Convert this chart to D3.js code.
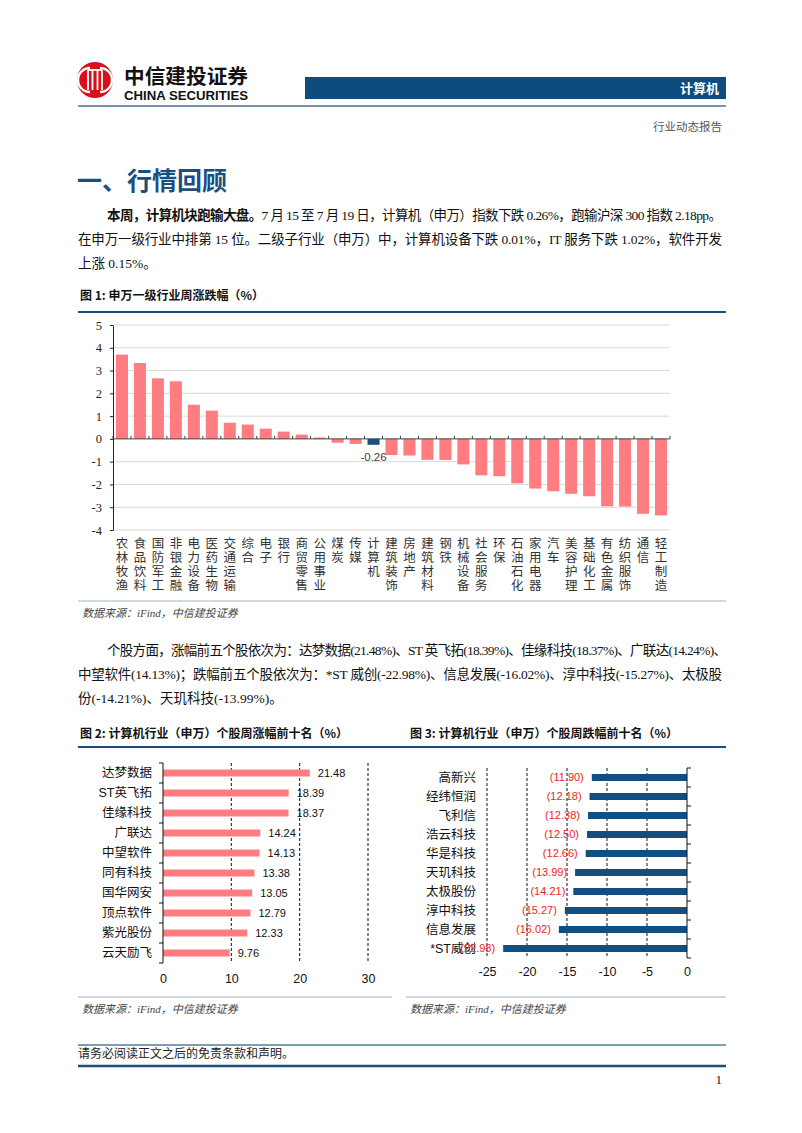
<!DOCTYPE html>
<html>
<head>
<meta charset="utf-8">
<script src="https://cdn.jsdelivr.net/npm/d3@7"></script>
<style>body{margin:0;background:#fff}</style>
</head>
<body>
<svg id="page" width="802" height="1133"></svg>
<script>
// figure 1: weekly change of SW level-1 industries (%)
const industries = ["农林牧渔","食品饮料","国防军工","非银金融","电力设备","医药生物","交通运输","综合","电子","银行","商贸零售","公用事业","煤炭","传媒","计算机","建筑装饰","房地产","建筑材料","钢铁","机械设备","社会服务","环保","石油石化","家用电器","汽车","美容护理","基础化工","有色金属","纺织服饰","通信","轻工制造"];
const industryChg = [3.70,3.33,2.66,2.53,1.50,1.24,0.71,0.63,0.45,0.32,0.19,0.06,-0.17,-0.22,-0.26,-0.71,-0.73,-0.92,-0.93,-1.12,-1.60,-1.64,-1.95,-2.18,-2.30,-2.41,-2.52,-2.96,-2.97,-3.29,-3.36];
const yTicks1 = [5,4,3,2,1,0,-1,-2,-3,-4];

// figure 2: top 10 gainers
const gainers = ["达梦数据","ST英飞拓","佳缘科技","广联达","中望软件","同有科技","国华网安","顶点软件","紫光股份","云天励飞"];
const gainerChg = [21.48,18.39,18.37,14.24,14.13,13.38,13.05,12.79,12.33,9.76];
const xTicks2 = [0,10,20,30];

// figure 3: top 10 losers
const losers = ["高新兴","经纬恒润","飞利信","浩云科技","华是科技","天玑科技","太极股份","淳中科技","信息发展","*ST威创"];
const loserChg = [-11.90,-12.18,-12.38,-12.50,-12.66,-13.99,-14.21,-15.27,-16.02,-22.98];
const xTicks3 = [-25,-20,-15,-10,-5,0];

const SERIF = "'Liberation Serif','Noto Sans CJK SC',serif";
const SANS = "'Liberation Sans','Noto Sans CJK SC',sans-serif";
const CJK = "'Noto Sans CJK SC',sans-serif";
const BLUE = "#1b4f80";
const SALMON = "#ff7c80";
const plain = d => String(d);   // keep ascii hyphen for negatives

const svg = d3.select("#page");
svg.append("rect").attr("width", 802).attr("height", 1133).attr("fill", "#fff");

function hline(x1, x2, y, color, w) {
    svg.append("line").attr("x1", x1).attr("x2", x2).attr("y1", y).attr("y2", y)
        .attr("stroke", color).attr("stroke-width", w);
}

// spread a line of text so it fills the given width
function justify(t, width) {
    let node = t.node();
    let n = node.getNumberOfChars();
    let w = node.getComputedTextLength();
    t.attr("letter-spacing", (width - w) / (n - 1));
}

// ---------- header ----------
let logo = svg.append("g").attr("transform", "translate(95,80)");
logo.append("circle").attr("r", 18).attr("fill", "#d7101b");
logo.append("path").attr("d", "M-5,-12 A12,12 0 0,0 -5,12").attr("fill", "none").attr("stroke", "#fff").attr("stroke-width", 2.4);
logo.append("path").attr("d", "M5,-12 A12,12 0 0,1 5,12").attr("fill", "none").attr("stroke", "#fff").attr("stroke-width", 2.4);
[-7, -2.5, 2.5, 7].forEach(dx => {
    logo.append("line").attr("x1", dx).attr("x2", dx).attr("y1", -10).attr("y2", 10)
        .attr("stroke", "#fff").attr("stroke-width", 1.8);
});
logo.append("line").attr("x1", -7).attr("x2", 7).attr("y1", -10).attr("y2", -10).attr("stroke", "#fff").attr("stroke-width", 1.8);

svg.append("text").attr("x", 124).attr("y", 84).text("中信建投证券")
    .attr("font-family", CJK).attr("font-weight", "bold").attr("font-size", 20).attr("fill", "#111")
    .attr("textLength", 124).attr("lengthAdjust", "spacingAndGlyphs");
svg.append("text").attr("x", 124).attr("y", 100).text("CHINA SECURITIES")
    .attr("font-family", SANS).attr("font-weight", "bold").attr("font-size", 12).attr("fill", "#111")
    .attr("textLength", 124).attr("lengthAdjust", "spacingAndGlyphs");

svg.append("rect").attr("x", 305).attr("y", 77).attr("width", 421).attr("height", 22).attr("fill", "#0e4c7e");
svg.append("text").attr("x", 719).attr("y", 93).attr("text-anchor", "end").text("计算机")
    .attr("font-family", CJK).attr("font-weight", "bold").attr("font-size", 13).attr("fill", "#fff");
hline(78, 726, 106, "#4c7191", 1.5);
svg.append("text").attr("x", 722).attr("y", 131).attr("text-anchor", "end").text("行业动态报告")
    .attr("font-family", CJK).attr("font-size", 11.5).attr("fill", "#555");

// ---------- section heading & paragraph 1 ----------
svg.append("text").attr("x", 77).attr("y", 190).text("一、行情回顾")
    .attr("font-family", CJK).attr("font-weight", "bold").attr("font-size", 25).attr("fill", BLUE);

function para(lines, y0) {
    lines.forEach((ln, i) => {
        let t = svg.append("text").attr("x", ln.x).attr("y", y0 + i * 24)
            .attr("font-family", SERIF).attr("font-size", 13.5).attr("fill", "#111");
        ln.parts.forEach(p => {
            t.append("tspan").text(p[0]).attr("font-weight", p[1] ? "bold" : null);
        });
        if (ln.w) justify(t, ln.w);
    });
}

para([
    {x: 107, w: 615, parts: [["本周，计算机块跑输大盘。", true], ["7 月 15 至 7 月 19 日，计算机（申万）指数下跌 0.26%，跑输沪深 300 指数 2.18pp。", false]]},
    {x: 78, w: 644, parts: [["在申万一级行业中排第 15 位。二级子行业（申万）中，计算机设备下跌 0.01%，IT 服务下跌 1.02%，软件开发", false]]},
    {x: 78, parts: [["上涨 0.15%。", false]]}
], 220);

// ---------- figure 1 ----------
svg.append("text").attr("x", 80).attr("y", 300).text("图 1: 申万一级行业周涨跌幅（%）")
    .attr("font-family", CJK).attr("font-weight", "bold").attr("font-size", 12).attr("fill", "#111");
hline(78, 726, 312, BLUE, 2);

const x1 = d3.scaleBand().domain(industries).range([113, 670]).paddingInner(0.33).paddingOuter(0.165);
const y1 = d3.scaleLinear().domain([-4, 5]).range([530, 325]);

let g1 = svg.append("g");
g1.selectAll("line.grid").data(yTicks1.filter(d => d !== 0)).join("line").attr("class", "grid")
    .attr("x1", 113).attr("x2", 670).attr("y1", d => y1(d)).attr("y2", d => y1(d))
    .attr("stroke", "#d9d9d9").attr("stroke-width", 1);

g1.selectAll("rect.bar").data(industries).join("rect").attr("class", "bar")
    .attr("x", d => x1(d))
    .attr("width", x1.bandwidth())
    .attr("y", (d, i) => Math.min(y1(industryChg[i]), y1(0)))
    .attr("height", (d, i) => Math.abs(y1(industryChg[i]) - y1(0)))
    .attr("fill", d => d === "计算机" ? "#1b4f80" : SALMON);

hline(113, 670, y1(0), "#404040", 1);
g1.selectAll("line.ct").data(d3.range(industries.length + 1)).join("line").attr("class", "ct")
    .attr("x1", i => 113 + i * x1.step()).attr("x2", i => 113 + i * x1.step())
    .attr("y1", y1(0) - 3).attr("y2", y1(0)).attr("stroke", "#404040");

let ax1 = g1.append("g").attr("transform", "translate(113,0)")
    .call(d3.axisLeft(y1).tickValues(yTicks1).tickSize(3).tickSizeOuter(0).tickPadding(8).tickFormat(plain));
ax1.select(".domain").attr("stroke", "#222");
ax1.selectAll(".tick line").attr("stroke", "#222");
ax1.selectAll("text").attr("font-family", SERIF).attr("font-size", 12.5).attr("fill", "#222");

// label for the computer bar
let ci = industries.indexOf("计算机");
g1.append("text").attr("x", x1("计算机") + x1.bandwidth() / 2).attr("y", y1(industryChg[ci]) + 16)
    .attr("text-anchor", "middle").text(industryChg[ci].toFixed(2))
    .attr("font-family", SANS).attr("font-size", 11.5).attr("fill", "#404040");

// vertical category labels, one column of characters per bar
g1.selectAll("text.xl").data(industries).join("text").attr("class", "xl")
    .attr("x", d => x1(d) + x1.bandwidth() / 2).attr("y", 536.5)
    .style("writing-mode", "vertical-rl")
    .attr("letter-spacing", 1.8)
    .text(d => d)
    .attr("font-family", CJK).attr("font-size", 12.5).attr("fill", "#333");

hline(78, 726, 601, "#9fb4c6", 1);
svg.append("text").attr("x", 82).attr("y", 617).text("数据来源：iFind，中信建投证券")
    .attr("font-family", SERIF).attr("font-style", "italic").attr("font-size", 11).attr("fill", "#444");

// ---------- paragraph 2 ----------
para([
    {x: 107, w: 620, parts: [["个股方面，涨幅前五个股依次为：达梦数据(21.48%)、ST 英飞拓(18.39%)、佳缘科技(18.37%)、广联达(14.24%)、", false]]},
    {x: 78, w: 644, parts: [["中望软件(14.13%)；跌幅前五个股依次为：*ST 威创(-22.98%)、信息发展(-16.02%)、淳中科技(-15.27%)、太极股", false]]},
    {x: 78, parts: [["份(-14.21%)、天玑科技(-13.99%)。", false]]}
], 655);

// ---------- figures 2 & 3 ----------
svg.append("text").attr("x", 80).attr("y", 738).text("图 2: 计算机行业（申万）个股周涨幅前十名（%）")
    .attr("font-family", CJK).attr("font-weight", "bold").attr("font-size", 12).attr("fill", "#111");
svg.append("text").attr("x", 410).attr("y", 738).text("图 3: 计算机行业（申万）个股周跌幅前十名（%）")
    .attr("font-family", CJK).attr("font-weight", "bold").attr("font-size", 12).attr("fill", "#111");
hline(78, 726, 747, BLUE, 2);

// figure 2
const x2 = d3.scaleLinear().domain([0, 30]).range([163, 368]);
const y2 = d3.scaleBand().domain(gainers).range([763, 963]);
let g2 = svg.append("g");
g2.selectAll("line.dash").data(xTicks2.filter(d => d !== 0)).join("line").attr("class", "dash")
    .attr("x1", d => x2(d)).attr("x2", d => x2(d)).attr("y1", 763).attr("y2", 963)
    .attr("stroke", "#111").attr("stroke-dasharray", "3,2");
g2.selectAll("rect").data(gainers).join("rect")
    .attr("x", x2(0)).attr("y", d => y2(d) + y2.bandwidth() / 2 - 3.5)
    .attr("width", (d, i) => x2(gainerChg[i]) - x2(0)).attr("height", 7)
    .attr("fill", SALMON);
g2.selectAll("text.val").data(gainers).join("text").attr("class", "val")
    .attr("x", (d, i) => x2(gainerChg[i]) + 8).attr("y", d => y2(d) + y2.bandwidth() / 2).attr("dy", "0.35em")
    .text((d, i) => gainerChg[i].toFixed(2))
    .attr("font-family", SANS).attr("font-size", 11).attr("fill", "#111");
g2.selectAll("text.cat").data(gainers).join("text").attr("class", "cat")
    .attr("x", 152).attr("y", d => y2(d) + y2.bandwidth() / 2).attr("dy", "0.35em")
    .attr("text-anchor", "end").text(d => d)
    .attr("font-family", SANS).attr("font-size", 12.5).attr("fill", "#111");
g2.append("line").attr("x1", x2(0)).attr("x2", x2(0)).attr("y1", 763).attr("y2", 963).attr("stroke", "#111");
g2.selectAll("line.yt").data(d3.range(gainers.length + 1)).join("line").attr("class", "yt")
    .attr("x1", x2(0) - 4).attr("x2", x2(0))
    .attr("y1", i => 763 + i * y2.step()).attr("y2", i => 763 + i * y2.step()).attr("stroke", "#111");
let ax2 = g2.append("g").attr("transform", "translate(0,963)")
    .call(d3.axisBottom(x2).tickValues(xTicks2).tickSize(0).tickPadding(11).tickFormat(plain));
ax2.select(".domain").remove();
ax2.selectAll("text").attr("font-family", SANS).attr("font-size", 12.5).attr("fill", "#111");

// figure 3
const x3 = d3.scaleLinear().domain([-25, 0]).range([487, 687]);
const y3 = d3.scaleBand().domain(losers).range([768, 958]);
let g3 = svg.append("g");
g3.selectAll("line.dash").data(xTicks3.filter(d => d !== 0)).join("line").attr("class", "dash")
    .attr("x1", d => x3(d)).attr("x2", d => x3(d)).attr("y1", 768).attr("y2", 958)
    .attr("stroke", "#111").attr("stroke-dasharray", "3,2");
g3.selectAll("rect").data(losers).join("rect")
    .attr("x", (d, i) => x3(loserChg[i])).attr("y", d => y3(d) + y3.bandwidth() / 2 - 3.5)
    .attr("width", (d, i) => x3(0) - x3(loserChg[i])).attr("height", 7)
    .attr("fill", "#124e80");
g3.selectAll("text.cat").data(losers).join("text").attr("class", "cat")
    .attr("x", 476).attr("y", d => y3(d) + y3.bandwidth() / 2).attr("dy", "0.35em")
    .attr("text-anchor", "end").text(d => d)
    .attr("font-family", SANS).attr("font-size", 12.5).attr("fill", "#111");
g3.selectAll("text.val").data(losers).join("text").attr("class", "val")
    .attr("x", (d, i) => x3(loserChg[i]) - 8).attr("y", d => y3(d) + y3.bandwidth() / 2).attr("dy", "0.35em")
    .attr("text-anchor", "end").text((d, i) => "(" + Math.abs(loserChg[i]).toFixed(2) + ")")
    .attr("font-family", SANS).attr("font-size", 11).attr("fill", "#f01c24");
g3.append("line").attr("x1", x3(0)).attr("x2", x3(0)).attr("y1", 768).attr("y2", 958).attr("stroke", "#111");
g3.selectAll("line.yt").data(d3.range(losers.length + 1)).join("line").attr("class", "yt")
    .attr("x1", x3(0)).attr("x2", x3(0) + 4)
    .attr("y1", i => 768 + i * y3.step()).attr("y2", i => 768 + i * y3.step()).attr("stroke", "#111");
let ax3 = g3.append("g").attr("transform", "translate(0,958)")
    .call(d3.axisBottom(x3).tickValues(xTicks3).tickSize(0).tickPadding(9).tickFormat(plain));
ax3.select(".domain").remove();
ax3.selectAll("text").attr("font-family", SANS).attr("font-size", 12.5).attr("fill", "#111");

hline(78, 392, 997, "#9fb4c6", 1);
hline(406, 726, 997, "#9fb4c6", 1);
svg.append("text").attr("x", 82).attr("y", 1013).text("数据来源：iFind，中信建投证券")
    .attr("font-family", SERIF).attr("font-style", "italic").attr("font-size", 11).attr("fill", "#444");
svg.append("text").attr("x", 410).attr("y", 1013).text("数据来源：iFind，中信建投证券")
    .attr("font-family", SERIF).attr("font-style", "italic").attr("font-size", 11).attr("fill", "#444");

// ---------- footer ----------
hline(78, 726, 1045, "#7e9db2", 2);
svg.append("text").attr("x", 78).attr("y", 1058).text("请务必阅读正文之后的免责条款和声明。")
    .attr("font-family", SERIF).attr("font-size", 12).attr("fill", "#222");
hline(78, 726, 1066, BLUE, 2.5);
svg.append("text").attr("x", 722).attr("y", 1084).attr("text-anchor", "end").text("1")
    .attr("font-family", SERIF).attr("font-size", 13).attr("fill", "#222");
</script>
</body>
</html>
